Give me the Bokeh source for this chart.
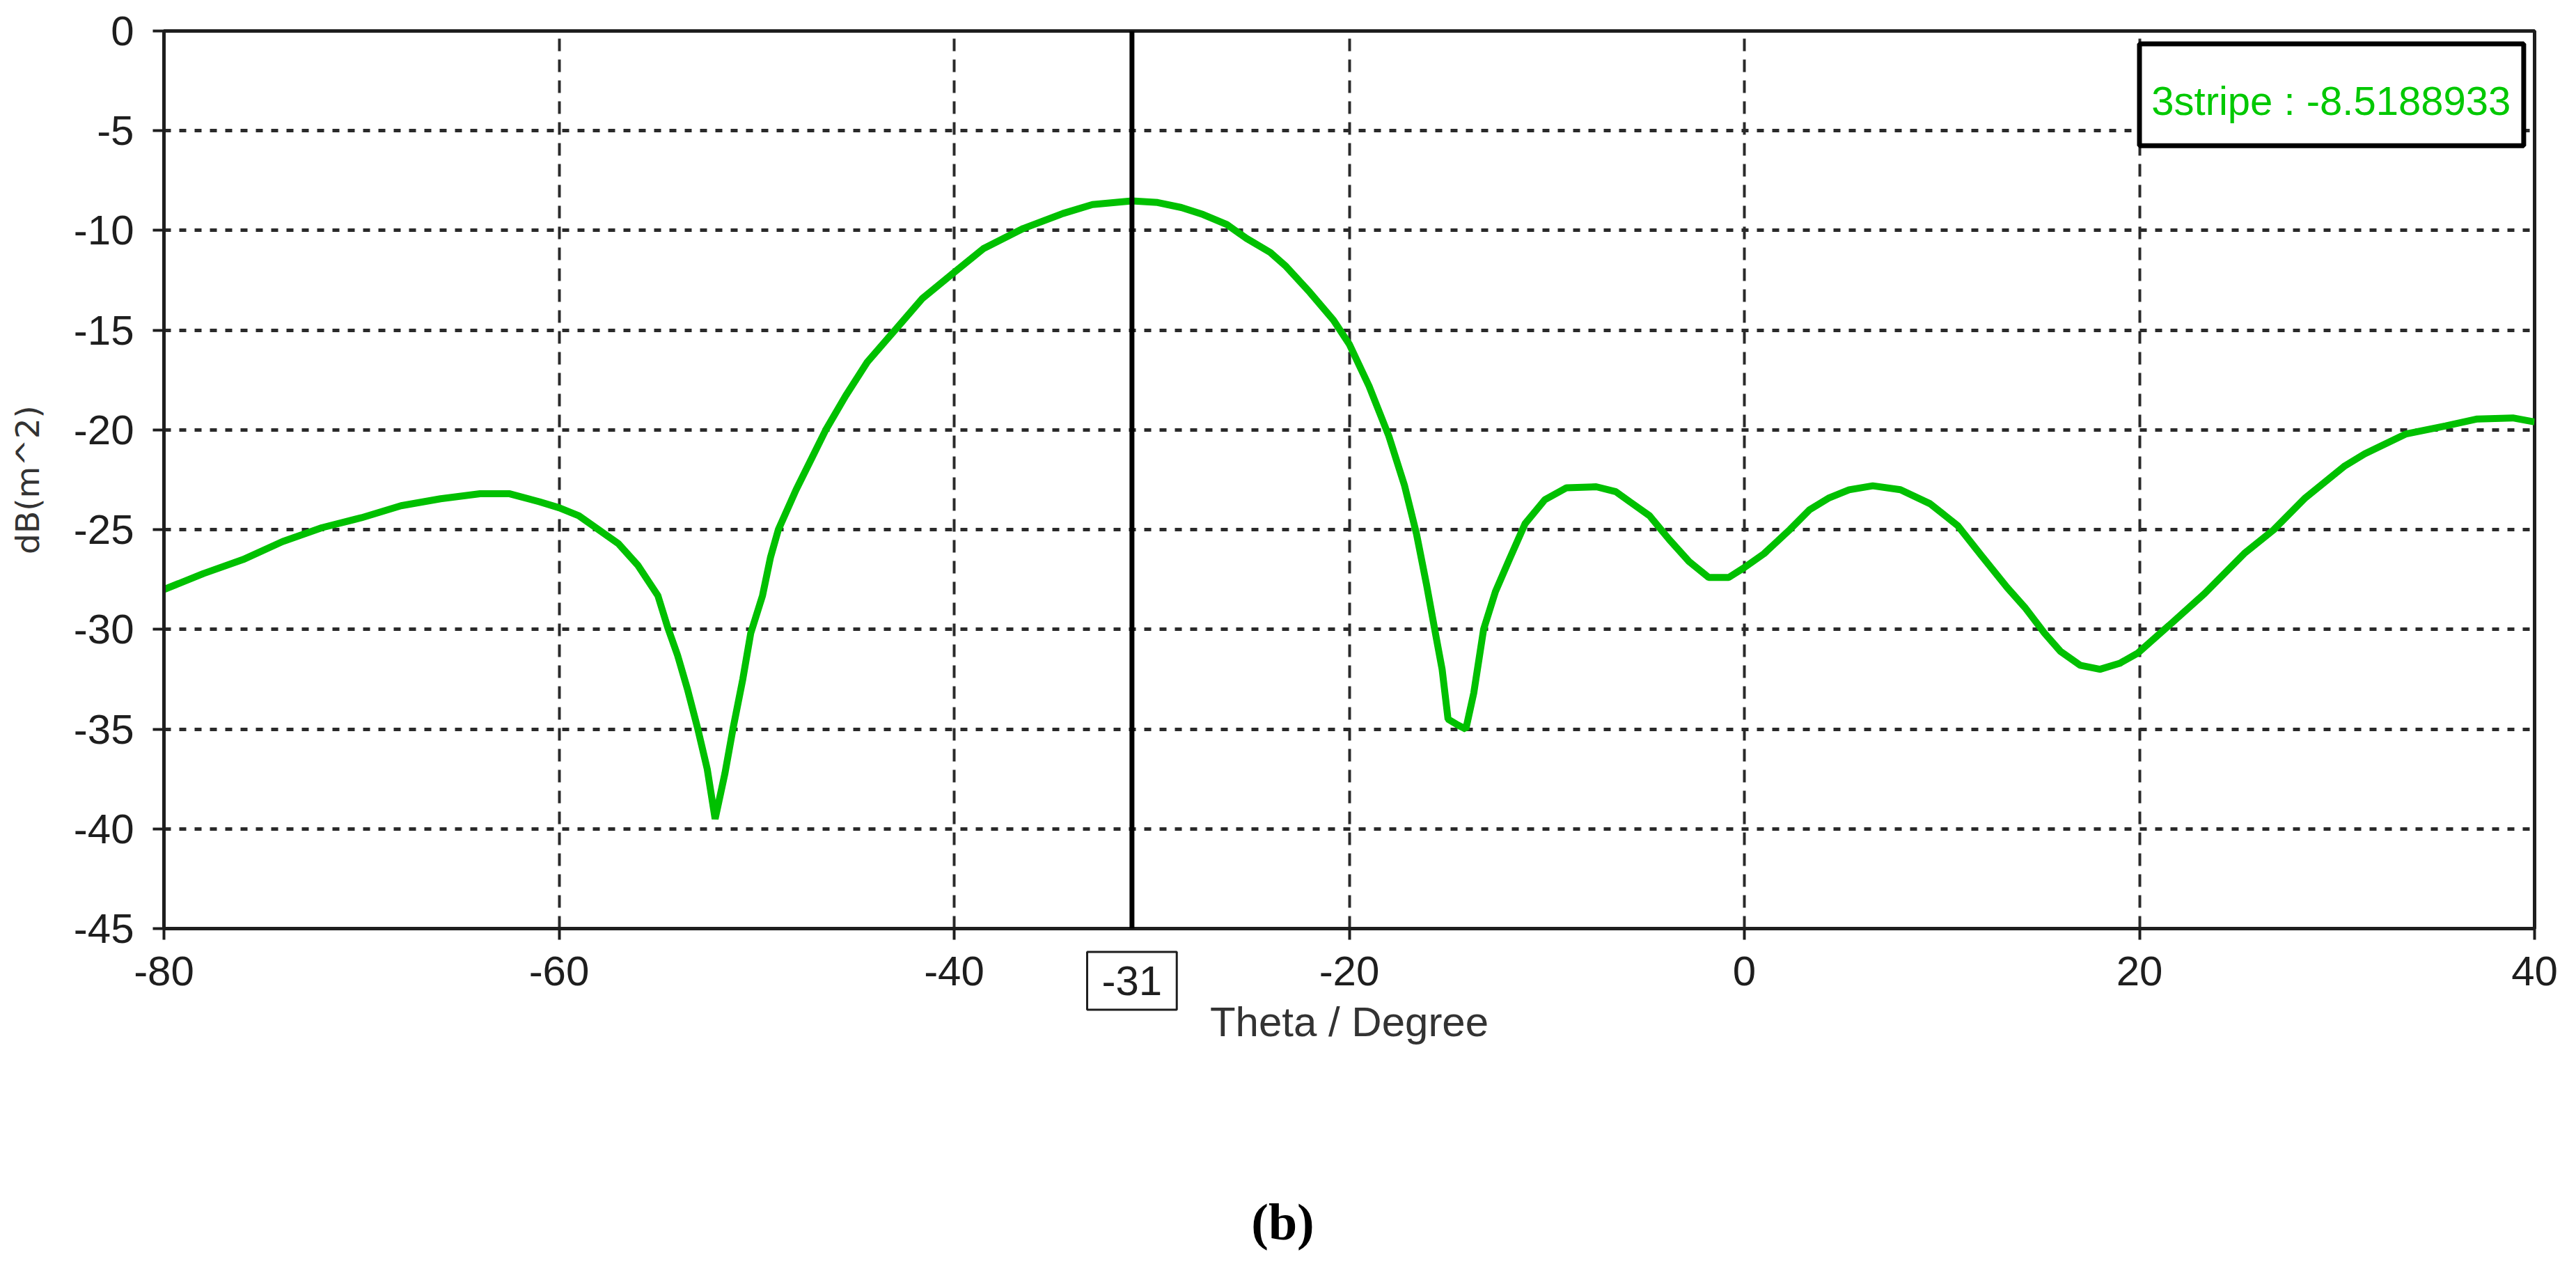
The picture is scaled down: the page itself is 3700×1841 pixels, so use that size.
from bokeh.plotting import figure
from bokeh.models import Range1d, Label, BoxAnnotation, Span, FixedTicker, PrintfTickFormatter
from bokeh.embed import file_html
from bokeh.resources import INLINE

# ---- data ----
theta = [-80, -78, -76, -74, -72, -70, -68, -66, -64, -62.5, -61, -60, -59, -58, -57, -56,
         -55, -54.5, -54, -53.5, -53, -52.5, -52.1, -51.6, -51.2, -50.7, -50.3, -49.7, -49.3,
         -48.9, -48, -47, -46.5, -45.5, -44.4, -43, -41.6, -40, -38.5, -36.5, -34.5, -33, -31,
         -29.7, -28.5, -27.4, -26.2, -25.2, -24, -23.2, -22, -20.8, -20, -19, -18, -17.2, -16.6,
         -16.1, -15.6, -15.3, -15.0, -14.5, -14.1, -13.7, -13.2, -12.6, -11.9, -11.1, -10.1, -9.0,
         -7.5, -6.5, -5.8, -4.8, -3.8, -2.8, -1.8, -0.8, 0, 1.0, 2.3, 3.3, 4.3, 5.3, 6.5, 7.9,
         9.4, 10.8, 12.0, 13.3, 14.2, 15.2, 16.0, 17.0, 18.0, 19.0, 19.9, 21.5, 23.3, 25.3, 26.8,
         28.4, 30.4, 31.4, 33.5, 35.5, 37.1, 38.9, 40]
rcs_db = [-28.0, -27.2, -26.5, -25.6, -24.9, -24.4, -23.8, -23.45, -23.2, -23.2, -23.6, -23.9,
          -24.3, -25.0, -25.7, -26.8, -28.3, -29.9, -31.3, -33.0, -34.9, -37.0, -39.5, -37.2,
          -35.0, -32.5, -30.2, -28.3, -26.4, -25.0, -23.0, -21.0, -20.0, -18.3, -16.6, -15.0,
          -13.4, -12.1, -10.9, -9.9, -9.15, -8.7, -8.5188933, -8.6, -8.85, -9.2, -9.7, -10.4,
          -11.1, -11.8, -13.1, -14.5, -15.7, -17.8, -20.3, -22.8, -25.2, -27.7, -30.4, -32.0,
          -34.5, -34.8, -35.0, -33.2, -30.0, -28.1, -26.5, -24.7, -23.5, -22.9, -22.85, -23.1,
          -23.6, -24.3, -25.5, -26.6, -27.4, -27.4, -26.9, -26.2, -25.0, -24.0, -23.4, -23.0,
          -22.8, -23.0, -23.7, -24.8, -26.3, -27.9, -28.9, -30.2, -31.1, -31.8, -32.0, -31.7,
          -31.2, -29.8, -28.2, -26.2, -25.0, -23.4, -21.8, -21.2, -20.2, -19.8, -19.45, -19.4,
          -19.6]
series_name = "3stripe"
cursor_theta = -31
cursor_value = -8.5188933
x_ticks = [-80, -60, -40, -20, 0, 20, 40]
y_ticks = [-45, -40, -35, -30, -25, -20, -15, -10, -5, 0]
x_label = "Theta / Degree"
y_label = "dB(m^2)"
caption = "(b)"

# ---- layout ----
W, H = 3684, 1825
BL, BR, BT, BB = 235, 44, 44, 492
X0, X1, Y0, Y1 = -80, 40, -45, 0
FW, FH = W - BL - BR, H - BT - BB
PXX = FW / (X1 - X0)
PXY = FH / (Y1 - Y0)

FONT = "Liberation Sans"
DARK = "#1e1e1e"
GREEN = "#00c000"

p = figure(width=W, height=H, output_backend="svg", toolbar_location=None,
           x_range=Range1d(X0, X1), y_range=Range1d(Y0, Y1),
           min_border_left=BL, min_border_right=BR, min_border_top=BT, min_border_bottom=BB)
p.background_fill_color = "white"
p.border_fill_color = "white"
p.outline_line_color = DARK
p.outline_line_width = 5

p.xaxis.ticker = FixedTicker(ticks=x_ticks)
p.yaxis.ticker = FixedTicker(ticks=y_ticks)
p.xaxis.formatter = PrintfTickFormatter(format="%d")
p.yaxis.formatter = PrintfTickFormatter(format="%d")
for ax in (p.xaxis[0], p.yaxis[0]):
    ax.axis_line_color = DARK
    ax.axis_line_width = 5
    ax.major_tick_line_color = DARK
    ax.major_tick_line_width = 4
    ax.major_tick_out = 16
    ax.major_tick_in = 0
    ax.minor_tick_line_color = None
    ax.major_label_text_font = FONT
    ax.major_label_text_font_size = "60px"
    ax.major_label_text_color = DARK
    ax.axis_label_text_font_style = "normal"
    ax.axis_label_text_color = "#333333"

p.xaxis.major_label_standoff = 24
p.yaxis.major_label_standoff = 27
p.xaxis.axis_label = x_label
p.xaxis.axis_label_text_font = FONT
p.xaxis.axis_label_text_font_size = "60px"
p.xaxis.axis_label_standoff = 16
p.yaxis.axis_label = y_label
p.yaxis.axis_label_text_font = "DejaVu Sans"
p.yaxis.axis_label_text_font_size = "47px"
p.yaxis.axis_label_standoff = 36

p.xgrid.grid_line_color = "#2a2a2a"
p.xgrid.grid_line_width = 4
p.xgrid.grid_line_dash = "18 12"
p.ygrid.grid_line_color = "#2a2a2a"
p.ygrid.grid_line_width = 5
p.ygrid.grid_line_dash = "10 12"

p.line(theta, rcs_db, line_color=GREEN, line_width=10)

p.add_layout(Span(location=cursor_theta, dimension="height", line_color="black", line_width=7))

# value box (top-right)
p.add_layout(BoxAnnotation(left=20, right=39.45, top=-0.65, bottom=-5.75,
                           fill_color="white", fill_alpha=1.0,
                           line_color="black", line_alpha=1.0, line_width=7, level="overlay"))
p.add_layout(Label(x=29.7, y=-3.5, text=f"{series_name} : {cursor_value}",
                   text_align="center", text_baseline="alphabetic",
                   text_font=FONT, text_font_size="58px", text_color="#00c800",
                   level="overlay"))

# cursor label under the x axis (side panel so it is not clipped to the frame)
p.add_layout(Label(x=cursor_theta, y=Y0 - 75 / PXY, text=str(cursor_theta),
                   text_align="center", text_baseline="alphabetic",
                   text_font=FONT, text_font_size="60px", text_color=DARK,
                   border_line_color=DARK, border_line_width=3,
                   background_fill_color="white", padding=21), "below")

# caption centred on the canvas
p.add_layout(Label(x=X0 + (W / 2 - BL) / PXX, y=Y1 - (1754 - BT) / PXY, text=caption,
                   text_align="center", text_baseline="alphabetic",
                   text_font="Liberation Serif", text_font_style="bold",
                   text_font_size="74px", text_color="black"), "below")

open("out.html", "w").write(file_html(p, INLINE))
